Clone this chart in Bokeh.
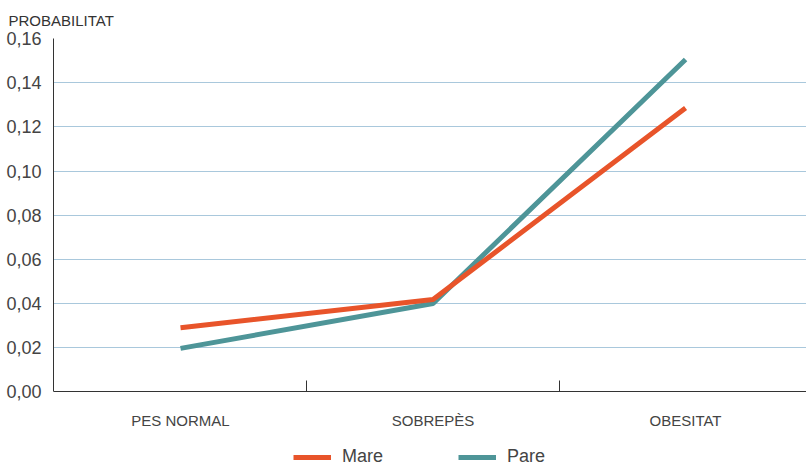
from bokeh.plotting import figure
from bokeh.models import (FixedTicker, CustomJSTickFormatter, Legend, LegendItem,
                          Range1d, ColumnDataSource)
from bokeh.embed import file_html
from bokeh.resources import INLINE

categories = ["PES NORMAL", "SOBREPÈS", "OBESITAT"]
mare = [0.029, 0.0418, 0.1285]
pare = [0.0197, 0.0400, 0.1505]
y_ticks = [0.00, 0.02, 0.04, 0.06, 0.08, 0.10, 0.12, 0.14, 0.16]

xs = list(range(1, len(categories) + 1))
FONT = "Liberation Sans"
TXT = "#444444"

p = figure(width=806, height=465, output_backend="svg", toolbar_location=None,
           x_range=Range1d(0.497, 3.479), y_range=Range1d(-0.03335, 0.16),
           min_border_left=53, min_border_right=0, min_border_top=36,
           min_border_bottom=0)
p.outline_line_color = None
p.background_fill_color = "white"
p.border_fill_color = "white"

p.title.text = "PROBABILITAT"
p.title.align = "left"
p.title.offset = -45
p.title.text_font = FONT
p.title.text_font_size = "15px"
p.title.text_font_style = "normal"
p.title.text_color = "#333333"
p.title.standoff = 19

p.xgrid.grid_line_color = None
p.ygrid.grid_line_color = "#a9c8dc"
p.ygrid.grid_line_width = 1

p.xaxis.fixed_location = 0
p.xaxis.ticker = FixedTicker(ticks=xs, minor_ticks=[1.5, 2.5])
p.xaxis.major_label_overrides = {x: c for x, c in zip(xs, categories)}
p.xaxis.major_tick_line_color = None
p.xaxis.minor_tick_line_color = "#333333"
p.xaxis.minor_tick_in = 11
p.xaxis.minor_tick_out = 0
p.xaxis.axis_line_color = "#333333"
p.xaxis.major_label_text_font = FONT
p.xaxis.major_label_text_font_size = "15px"
p.xaxis.major_label_text_color = TXT
p.xaxis.major_label_standoff = 14

p.yaxis.bounds = (y_ticks[0], y_ticks[-1])
p.yaxis.ticker = FixedTicker(ticks=y_ticks)
p.yaxis.formatter = CustomJSTickFormatter(code="return tick.toFixed(2).replace('.', ',');")
p.yaxis.major_tick_line_color = None
p.yaxis.minor_tick_line_color = None
p.yaxis.axis_line_color = "#333333"
p.yaxis.major_label_text_font = FONT
p.yaxis.major_label_text_font_size = "18px"
p.yaxis.major_label_text_color = TXT
p.yaxis.major_label_standoff = 6

src = ColumnDataSource(dict(x=xs, mare=mare, pare=pare))
r_pare = p.line("x", "pare", source=src, line_color="#4e9598", line_width=5)
r_mare = p.line("x", "mare", source=src, line_color="#e8542a", line_width=5)

legend = Legend(items=[LegendItem(label="Mare", renderers=[r_mare]),
                       LegendItem(label="Pare", renderers=[r_pare])],
                orientation="horizontal", location=(240, -2))
legend.border_line_color = None
legend.background_fill_alpha = 0
legend.padding = 0
legend.margin = 0
legend.spacing = 75
legend.glyph_width = 38
legend.label_standoff = 11
legend.label_text_font = FONT
legend.label_text_font_size = "18px"
legend.label_text_color = TXT
p.add_layout(legend, "center")

open("out.html", "w").write(file_html(p, INLINE))
